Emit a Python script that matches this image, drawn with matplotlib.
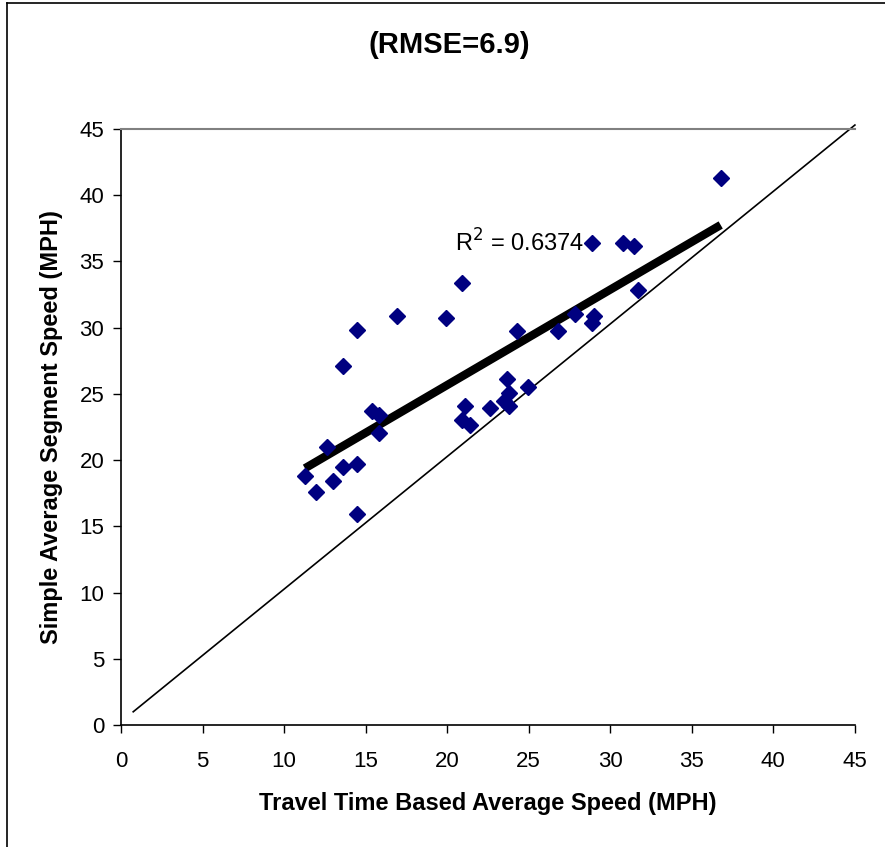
import numpy as np
import matplotlib.pyplot as plt
from matplotlib.lines import Line2D

plt.rcParams['font.family'] = ['Liberation Sans', 'DejaVu Sans']

travel_speed = [11.28, 11.95, 12.61, 12.98, 13.63, 13.63, 14.45, 14.45, 14.49, 15.37,
                15.84, 15.84, 16.9, 19.9, 20.89, 20.93, 21.07, 21.4, 22.6, 23.48,
                23.65, 23.8, 23.82, 24.3, 24.95, 26.81, 27.84, 28.85, 29.02, 28.9,
                30.76, 31.47, 31.67, 36.77]
segment_speed = [18.83, 17.62, 21.0, 18.43, 27.14, 19.5, 19.7, 15.97, 29.83, 23.68,
                 23.4, 22.08, 30.9, 30.76, 33.36, 23.04, 24.12, 22.66, 23.9, 24.5,
                 26.15, 25.05, 24.08, 29.78, 25.5, 29.72, 31.04, 30.32, 30.89, 36.43,
                 36.43, 36.13, 32.85, 41.29]
diag_x = [0.75, 45]
diag_y = [1.0, 45.3]
r2_text = 'R$^2$ = 0.6374'

x = np.array(travel_speed)
y = np.array(segment_speed)

fig = plt.figure(figsize=(8.85, 8.47), dpi=100)
ax = fig.add_axes([0.1367, 0.144, 0.8293, 0.7037])

ax.plot(diag_x, diag_y, 'k-', lw=1.2, clip_on=False, zorder=1)

# linear trend line
k, b = np.polyfit(x, y, 1)
xf = np.array([x.min(), x.max()])
ax.plot(xf, k * xf + b, 'k-', lw=6, solid_capstyle='butt', zorder=2)

ax.plot(x, y, 'D', color='#000080', ms=8.5, mec='#000080', mew=1, zorder=3)

ax.text(20.5, 36.4, r2_text, fontsize=17, ha='left', va='center')

ax.set_xlim(0, 45)
ax.set_ylim(0, 45)
ax.set_xticks(np.arange(0, 46, 5))
ax.set_yticks(np.arange(0, 46, 5))
ax.tick_params(direction='out', length=6, width=1, labelsize=16)
ax.tick_params(axis='x', pad=13)
ax.tick_params(axis='y', pad=6)

ax.spines['right'].set_visible(False)
ax.spines['top'].set_color('#808080')
ax.spines['top'].set_linewidth(1.5)
ax.spines['left'].set_linewidth(1.2)
ax.spines['bottom'].set_linewidth(1.2)

ax.set_xlabel('Travel Time Based Average Speed (MPH)', fontsize=17, fontweight='bold', labelpad=14)
ax.set_ylabel('Simple Average Segment Speed (MPH)', fontsize=17, fontweight='bold', labelpad=12)
fig.text(0.508, 0.947, '(RMSE=6.9)', fontsize=21, fontweight='bold', ha='center', va='center')

fig.add_artist(Line2D([0.008, 0.008], [0, 0.997], color='black', lw=1.2))
fig.add_artist(Line2D([0.008, 1], [0.997, 0.997], color='black', lw=1.2))

plt.savefig('out.png', dpi=100)
